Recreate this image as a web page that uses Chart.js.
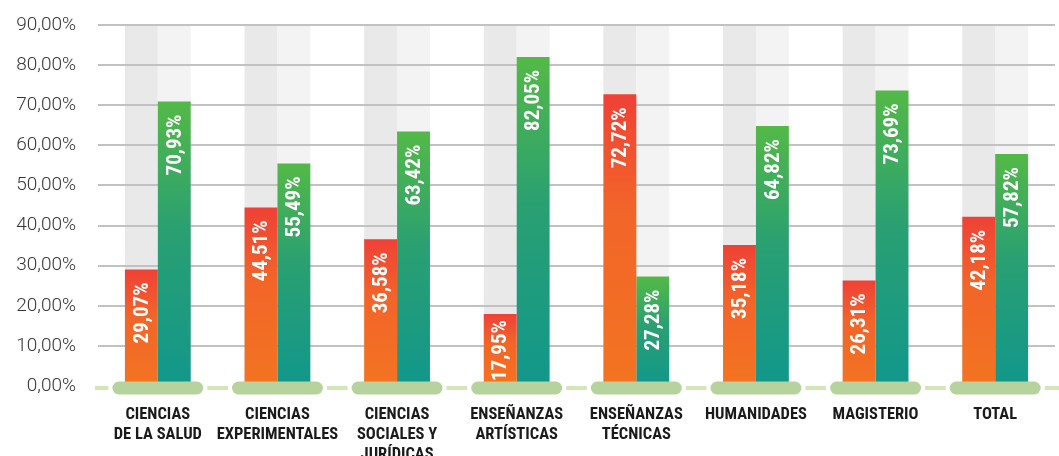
<!DOCTYPE html>
<html>
<head>
<meta charset="utf-8">
<script src="https://cdn.jsdelivr.net/npm/chart.js@4.4.1/dist/chart.umd.min.js"></script>
<style>
  html, body { margin: 0; padding: 0; background: #fff; }
  #wrap { width: 1059px; height: 456px; position: relative; }
</style>
</head>
<body>
<div id="wrap"><canvas id="chart"></canvas></div>
<script>
// data
const categories = [
    ['CIENCIAS', 'DE LA SALUD'],
    ['CIENCIAS', 'EXPERIMENTALES'],
    ['CIENCIAS', 'SOCIALES Y', 'JURÍDICAS'],
    ['ENSEÑANZAS', 'ARTÍSTICAS'],
    ['ENSEÑANZAS', 'TÉCNICAS'],
    ['HUMANIDADES'],
    ['MAGISTERIO'],
    ['TOTAL']
];
const orangeValues = [29.07, 44.51, 36.58, 17.95, 72.72, 35.18, 26.31, 42.18];
const greenValues = [70.93, 55.49, 63.42, 82.05, 27.28, 64.82, 73.69, 57.82];
const yTicks = [0, 10, 20, 30, 40, 50, 60, 70, 80, 90];

const labelFont = '"Roboto Condensed", "Roboto", sans-serif';

function fmt(v) {
    return v.toFixed(2).replace('.', ',') + '%';
}

// per-bar vertical gradient, built from the y scale
function barGradient(stops) {
    return (ctx) => {
        const chart = ctx.chart;
        const y = chart.scales.y;
        const fallback = stops[stops.length - 1][1];
        if (!y || ctx.raw === undefined) return fallback;
        const top = y.getPixelForValue(ctx.raw);
        const bottom = y.getPixelForValue(0);
        if (!isFinite(top) || !isFinite(bottom) || top === bottom) return fallback;
        const g = chart.ctx.createLinearGradient(0, top, 0, bottom);
        stops.forEach(s => g.addColorStop(s[0], s[1]));
        return g;
    };
}

// grey columns behind the bars (under the grid), baseline pills and value labels
const backdrop = {
    id: 'backdrop',
    beforeDraw(chart) {
        const y = chart.scales.y;
        const c = chart.ctx;
        const meta0 = chart.getDatasetMeta(0), meta1 = chart.getDatasetMeta(1);
        const top = y.getPixelForValue(yTicks[yTicks.length - 1]);
        const bottom = y.getPixelForValue(0);
        c.save();
        meta0.data.forEach((bar, i) => {
            const w = bar.width;
            c.fillStyle = '#e9e9e9';
            c.fillRect(bar.x - w / 2, top, w, bottom - top);
            const b2 = meta1.data[i];
            c.fillStyle = '#f3f3f3';
            c.fillRect(b2.x - w / 2, top, w, bottom - top);
        });
        c.restore();
    },
    afterDatasetsDraw(chart) {
        const x = chart.scales.x, y = chart.scales.y;
        const c = chart.ctx;
        const base = y.getPixelForValue(0) + 2;
        const area = chart.chartArea;
        const step = x.getPixelForValue(1) - x.getPixelForValue(0);
        const pillW = step * 0.76;
        const pillH = 13;
        c.save();
        // dashes between pills
        c.strokeStyle = '#d3e6b8';
        c.lineWidth = 4;
        c.beginPath();
        c.moveTo(area.left - 3, base);
        c.lineTo(x.getPixelForValue(0) - pillW / 2 - 4, base);
        for (let i = 0; i < categories.length; i++) {
            const s = x.getPixelForValue(i) + pillW / 2 + 4;
            const e = x.getPixelForValue(i + 1) - pillW / 2 - 4;
            c.moveTo(s, base);
            c.lineTo(i === categories.length - 1 ? chart.width : e, base);
        }
        c.stroke();
        // pills
        c.fillStyle = '#b6d39e';
        for (let i = 0; i < categories.length; i++) {
            const cx = x.getPixelForValue(i);
            c.beginPath();
            c.roundRect(cx - pillW / 2, base - pillH / 2, pillW, pillH, pillH / 2);
            c.fill();
        }
        // value labels, rotated inside bars
        c.fillStyle = '#ffffff';
        c.font = 'bold 21px ' + labelFont;
        c.textAlign = 'right';
        c.textBaseline = 'middle';
        [0, 1].forEach(d => {
            const meta = chart.getDatasetMeta(d);
            const vals = chart.data.datasets[d].data;
            meta.data.forEach((bar, i) => {
                const txt = fmt(vals[i]);
                const tw = c.measureText(txt).width;
                let end = bar.y + 13;
                if (end + tw > base - 7) end = base - 7 - tw;
                c.save();
                c.translate(bar.x, end);
                c.rotate(-Math.PI / 2);
                c.fillText(txt, 0, 1);
                c.restore();
            });
        });
        c.restore();
    }
};

new Chart(document.getElementById('chart'), {
    type: 'bar',
    data: {
        labels: categories,
        datasets: [{
            data: orangeValues,
            backgroundColor: barGradient([[0, '#ef4136'], [0.4, '#f26529'], [1, '#f37421']]),
            categoryPercentage: 0.55,
            barPercentage: 1
        }, {
            data: greenValues,
            backgroundColor: barGradient([[0, '#53b947'], [0.45, '#2aa072'], [1, '#11978b']]),
            categoryPercentage: 0.55,
            barPercentage: 1
        }]
    },
    options: {
        responsive: true,
        maintainAspectRatio: false,
        animation: false,
        layout: { padding: { top: 25, right: 4, left: 12, bottom: 0 } },
        plugins: {
            legend: { display: false },
            tooltip: { enabled: false }
        },
        scales: {
            x: {
                grid: { display: false, drawTicks: false },
                border: { display: false },
                ticks: {
                    color: '#1a1a1a',
                    padding: 19,
                    maxRotation: 0,
                    autoSkip: false,
                    font: { family: labelFont, size: 16.5, weight: 'bold', lineHeight: 1.2 }
                },
                afterFit(scale) { scale.height = 70; }
            },
            y: {
                min: 0,
                max: 90,
                afterBuildTicks(scale) {
                    scale.ticks = yTicks.map(v => ({ value: v }));
                },
                afterFit(scale) {
                    scale.width = 86;
                    scale.paddingTop = 0;
                },
                grid: {
                    drawTicks: false,
                    lineWidth: 2,
                    color: (ctx) => ctx.tick && ctx.tick.value === 0 ? 'rgba(0,0,0,0)' : '#c2c2c2'
                },
                border: { display: false },
                ticks: {
                    color: '#363636',
                    padding: 22,
                    font: { family: 'Roboto', size: 19, weight: 300 },
                    callback: (v) => fmt(v)
                }
            }
        }
    },
    plugins: [backdrop]
});
</script>
</body>
</html>
